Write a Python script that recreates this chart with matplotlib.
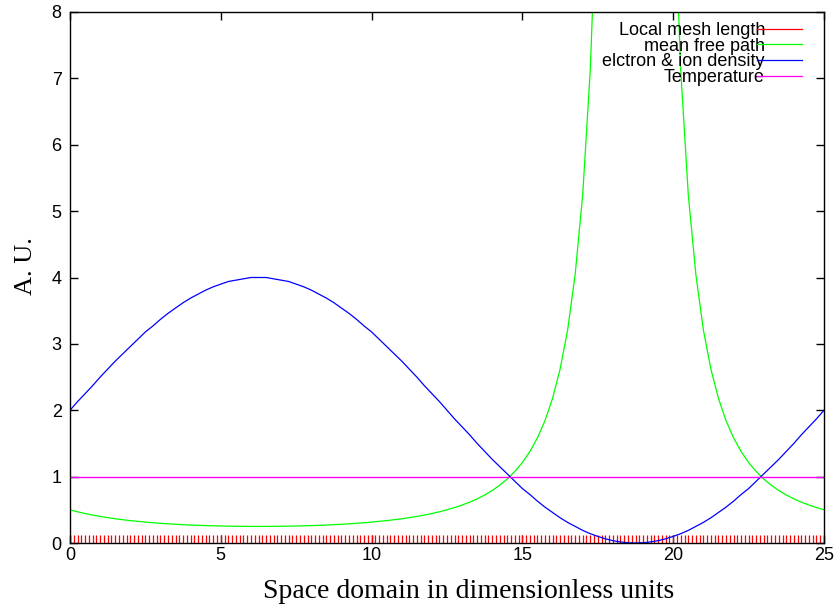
import numpy as np
import matplotlib
matplotlib.use("Agg")
import matplotlib.pyplot as plt
from matplotlib.lines import Line2D

# mesh nodes (uniform) and local mesh length at each node
mesh_x = np.linspace(0, 25, 201)
mesh_len = [0.125] * len(mesh_x)

# electron & ion density, read every 0.25 units
dens_x = np.arange(0, 25.01, 0.25)
dens = [2.00, 2.13, 2.25, 2.37, 2.50, 2.62, 2.74, 2.85, 2.96, 3.07,
        3.18, 3.27, 3.37, 3.46, 3.54, 3.62, 3.69, 3.75, 3.81, 3.86,
        3.90, 3.94, 3.96, 3.98, 4.00, 4.00,
        4.00, 3.98, 3.96, 3.94, 3.90, 3.86, 3.81, 3.75, 3.69, 3.62,
        3.54, 3.46, 3.37, 3.27, 3.18, 3.07, 2.96, 2.85, 2.74, 2.62,
        2.50, 2.37, 2.25, 2.13, 2.00,
        1.87, 1.75, 1.63, 1.50, 1.38, 1.26, 1.15, 1.04, 0.93, 0.82,
        0.73, 0.63, 0.54, 0.46, 0.38, 0.31, 0.25, 0.19, 0.14, 0.10,
        0.063, 0.035, 0.016, 0.004, 0.000,
        0.004, 0.016, 0.035, 0.063, 0.10, 0.14, 0.19, 0.25, 0.31, 0.38,
        0.46, 0.54, 0.63, 0.73, 0.82, 0.93, 1.04, 1.15, 1.26, 1.38,
        1.50, 1.63, 1.75, 1.87, 2.00]

# mean free path (leaves the top of the plot between ~17.3 and ~20.2)
mfp_x = np.concatenate([np.arange(0, 17.51, 0.25), np.arange(20, 25.01, 0.25)])
mfp = [0.500, 0.470, 0.444, 0.421, 0.400, 0.382, 0.365, 0.351, 0.337, 0.326,
       0.315, 0.305, 0.297, 0.289, 0.282, 0.276, 0.271, 0.266, 0.262, 0.259,
       0.256, 0.254, 0.252, 0.251, 0.250, 0.250,
       0.250, 0.251, 0.252, 0.254, 0.256, 0.259, 0.262, 0.266, 0.271, 0.276,
       0.282, 0.289, 0.297, 0.305, 0.315, 0.326, 0.337, 0.351, 0.365, 0.382,
       0.400, 0.421, 0.444, 0.470, 0.500,
       0.534, 0.572, 0.615, 0.665, 0.724, 0.791, 0.871, 0.965, 1.078, 1.213,
       1.379, 1.585, 1.845, 2.18, 2.62, 3.21, 4.05, 5.25, 7.12, 10.2,
       10.2, 7.12, 5.25, 4.05, 3.21, 2.62, 2.18, 1.845, 1.585, 1.379,
       1.213, 1.078, 0.965, 0.871, 0.791, 0.724, 0.665, 0.615, 0.572, 0.534,
       0.500]

# temperature
temp_x = [0, 25]
temp = [1.0, 1.0]

colors = ["#ff0000", "#00ff00", "#0000ff", "#ff00ff"]
labels = ["Local mesh length", "mean free path", "elctron & ion density",
          "Temperature"]

fig = plt.figure(figsize=(8.36, 6.06), dpi=100)
ax = fig.add_axes([70 / 836, 63 / 606, 754 / 836, 531 / 606])

ax.vlines(mesh_x, 0, mesh_len, color=colors[0], lw=0.9)
ax.plot(mfp_x, mfp, color=colors[1], lw=0.9)
ax.plot(dens_x, dens, color=colors[2], lw=0.9)
ax.plot(temp_x, temp, color=colors[3], lw=1.0)

ax.set_xlim(0, 25)
ax.set_ylim(0, 8)
ax.set_xticks([0, 5, 10, 15, 20, 25])
ax.set_yticks(range(0, 9))

for s in ax.spines.values():
    s.set_linewidth(1.0)
ax.tick_params(direction="in", length=6, width=1, top=True, right=True,
               labelsize=13)
ax.tick_params(axis="x", pad=3)
ax.tick_params(axis="y", pad=6)
for t in ax.get_xticklabels() + ax.get_yticklabels():
    t.set_fontfamily("Liberation Sans")

ax.set_xlabel("Space domain in dimensionless units", fontsize=20,
              fontfamily="Liberation Serif")
ax.xaxis.set_label_coords(0.529, -0.068)
ax.set_ylabel("A. U.", fontsize=19, fontfamily="Liberation Serif")
ax.yaxis.set_label_coords(-0.044, 0.522)

handles = [Line2D([], [], color=c, lw=0.9) for c in colors]
ax.legend(handles, labels, loc="upper right", bbox_to_anchor=(0.984, 1.0),
          frameon=False, markerfirst=False, handlelength=2.5,
          handletextpad=-0.45, labelspacing=-0.07, borderaxespad=0,
          borderpad=0.55, prop={"family": "Liberation Sans", "size": 13})

fig.savefig("out.png", dpi=100)
